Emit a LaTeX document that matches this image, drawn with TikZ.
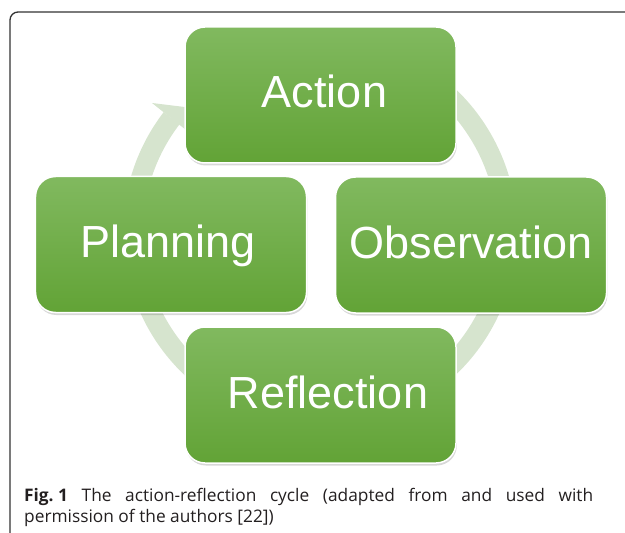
\documentclass[tikz,border=0pt]{standalone}
\usepackage{fontspec}
\usetikzlibrary{shadows}
\newfontfamily\boxfont{Liberation Sans}
\newfontfamily\capfont{Open Sans}
\definecolor{boxTop}{RGB}{129,185,95}
\definecolor{boxBot}{RGB}{98,163,54}
\definecolor{ringCol}{RGB}{214,228,206}
\definecolor{capCol}{RGB}{35,31,32}
\tikzset{
  stagebox/.style={rounded corners=20bp, top color=boxTop, bottom color=boxBot,
    draw=white, line width=1.5bp, minimum width=271bp, minimum height=136bp,
    inner sep=0pt, text=white, font=\boxfont\fontsize{45bp}{54bp}\selectfont,
    text height=26bp, text depth=0pt,
    drop shadow={opacity=0.22, shadow xshift=0.8bp, shadow yshift=-2.5bp, fill=black!70}},
  ringline/.style={draw=ringCol, line width=20bp},
  ringhead/.style={fill=ringCol, draw=none},
  framestyle/.style={draw=black!80, line width=1.3bp, rounded corners=8bp},
  capstyle/.style={font=\capfont\fontsize{17.3bp}{21bp}\selectfont, text=capCol, inner sep=0pt}
}
\begin{document}
\begin{tikzpicture}[x=1bp,y=-1bp]
\useasboundingbox (0,0) rectangle (625,533);
% frame (top and left sides)
\draw[framestyle] (626,12) -- (10,12) -- (10,534);
% cycle ring
\coordinate (rc) at (320,232);
\draw[ringline] (rc) ++(-120:187) arc[start angle=-120, end angle=217.5, radius=187];
\coordinate (hb1) at (152,103);
\coordinate (htip) at (201,109);
\coordinate (hb2) at (191,134);
\fill[ringhead] (hb1) -- (htip) -- (hb2) -- cycle;
% stages
\node[stagebox] (action) at (320.5,95) {\hspace*{8bp}Action};
\node[stagebox] (observation) at (471,245) {Observation};
\node[stagebox] (planning) at (171,244.5) {Planning\hspace*{6bp}};
\node[stagebox] (reflection) at (320.5,395) {\hspace*{15bp}Reflection};
% caption
\node[capstyle, anchor=base west] (cap1) at (24,501)
  {\makebox[569bp][s]{\textbf{Fig.\hspace{0.26em}1} The action-reflection cycle (adapted from and used with}};
\node[capstyle, anchor=base west] (cap2) at (24,522) {permission of the authors [22])};
\end{tikzpicture}
\end{document}
